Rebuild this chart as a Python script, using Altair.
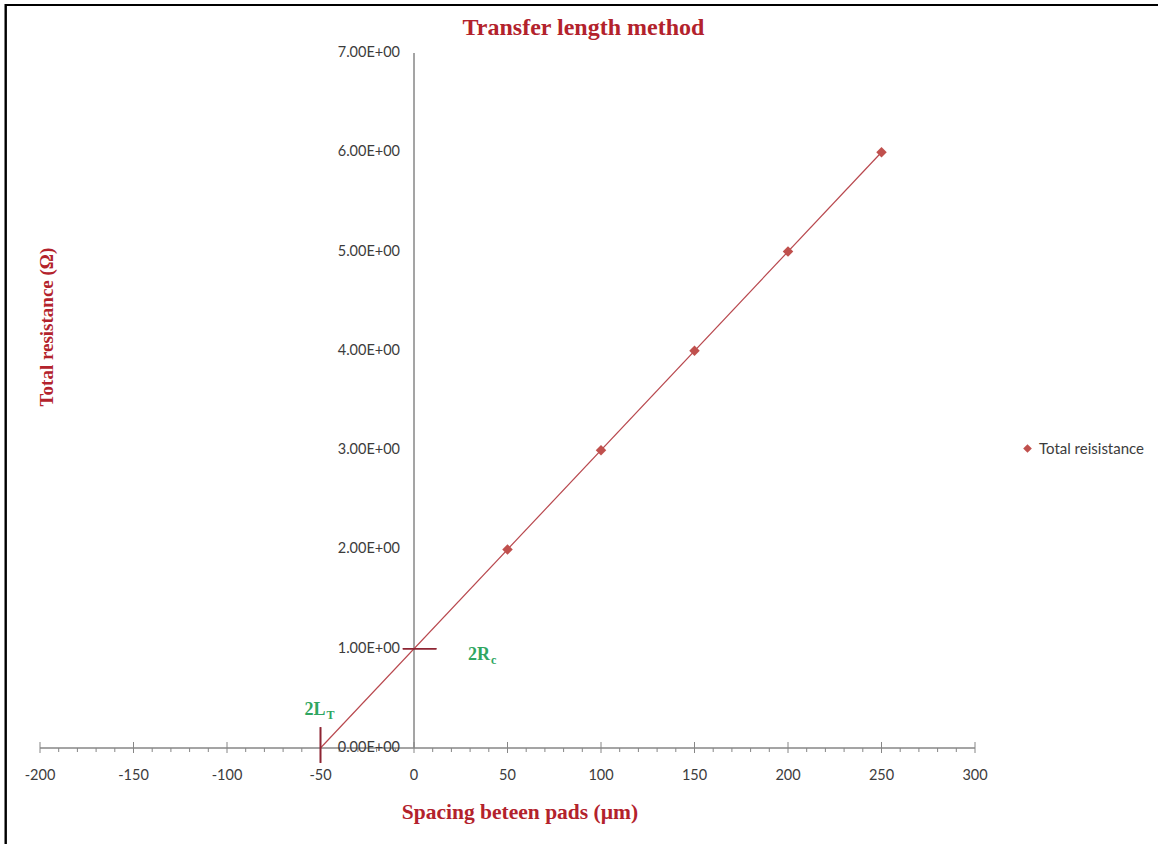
import altair as alt
import pandas as pd

# Measured pads: spacing between pads (µm) and total resistance (Ω)
spacing_um = [50, 100, 150, 200, 250]
total_resistance = [2.0, 3.0, 4.0, 5.0, 6.0]
series_name = "Total reisistance"

# Linear fit through the measurements, extended down to the x-intercept
fit_spacing = [-50, 250]
fit_resistance = [0.0, 6.0]

# Axis ticks and labels (axes cross at the origin)
x_major = [-200, -150, -100, -50, 0, 50, 100, 150, 200, 250, 300]
x_major_labels = ["-200", "-150", "-100", "-50", "0", "50", "100", "150", "200", "250", "300"]
x_minor = [v for v in range(-200, 301, 10) if v % 50 != 0]
y_ticks = [0, 1, 2, 3, 4, 5, 6, 7]
y_tick_labels = ["0.00E+00", "1.00E+00", "2.00E+00", "3.00E+00",
                 "4.00E+00", "5.00E+00", "6.00E+00", "7.00E+00"]

# Intercept markers: 2L_T on the x axis, 2R_c on the y axis
lt_x = -50
lt_span = [-0.15, 0.21]
rc_y = 1.0
rc_span = [-6, 12]

W, H = 935, 695
PAD = {"left": 40, "top": 53, "right": 183, "bottom": 96}

AXIS_GRAY = "#868686"
LABEL_GRAY = "#3c3c3c"
DARK_RED = "#b3222c"
MARK_RED = "#c0504d"
LINE_RED = "#b8484e"
TICK_RED = "#8e2533"
GREEN = "#2fa661"
SANS = "Lato"
SERIF = "Liberation Serif"

xs = alt.Scale(domain=[-200, 300], nice=False, zero=False)
ys = alt.Scale(domain=[0, 7], nice=False, zero=False)


def xd(v):
    return alt.XDatum(v, type="quantitative", scale=xs, axis=None)


def yd(v):
    return alt.YDatum(v, type="quantitative", scale=ys, axis=None)


points_df = pd.DataFrame({"spacing": spacing_um, "resistance": total_resistance,
                          "series": [series_name] * len(spacing_um)})
fit_df = pd.DataFrame({"spacing": fit_spacing, "resistance": fit_resistance})
xmaj_df = pd.DataFrame({"x": x_major, "label": x_major_labels})
xmin_df = pd.DataFrame({"x": x_minor})
ylab_df = pd.DataFrame({"y": y_ticks, "label": y_tick_labels})

# Frame lines along the top and left edge of the figure
border_top = alt.Chart(fit_df).mark_rule(color="black", strokeWidth=2).encode(
    x=alt.value(-35), x2=alt.value(1118), y=alt.value(-48))
border_left = alt.Chart(fit_df).mark_rule(color="black", strokeWidth=2).encode(
    x=alt.value(-34.3), y=alt.value(-49), y2=alt.value(791))

# Horizontal axis through y = 0
x_domain = alt.Chart(fit_df).mark_rule(color=AXIS_GRAY, strokeWidth=1).encode(
    x=xd(-200), x2=alt.X2Datum(300), y=yd(0))
x_major_ticks = alt.Chart(xmaj_df).mark_rule(
    color=AXIS_GRAY, strokeWidth=1, yOffset=-6, y2Offset=5).encode(
    x=alt.X("x:Q", scale=xs, axis=None), y=yd(0), y2=alt.Y2Datum(0))
x_minor_ticks = alt.Chart(xmin_df).mark_rule(
    color=AXIS_GRAY, strokeWidth=1, yOffset=0, y2Offset=4).encode(
    x=alt.X("x:Q", scale=xs, axis=None), y=yd(0), y2=alt.Y2Datum(0))
x_labels = alt.Chart(xmaj_df).mark_text(
    font=SANS, fontSize=14.5, color=LABEL_GRAY, dy=28, baseline="middle", align="center").encode(
    x=alt.X("x:Q", scale=xs, axis=None), y=yd(0), text="label:N")

# Vertical axis through x = 0
y_domain = alt.Chart(fit_df).mark_rule(color=AXIS_GRAY, strokeWidth=1).encode(
    x=xd(0), y=yd(0), y2=alt.Y2Datum(7))
y_labels = alt.Chart(ylab_df).mark_text(
    font=SANS, fontSize=14.5, color=LABEL_GRAY, dx=-14, baseline="middle", align="right").encode(
    x=xd(0), y=alt.Y("y:Q", scale=ys, axis=None), text="label:N")

# Fitted line and measured points
fit_line = alt.Chart(fit_df).mark_line(color=LINE_RED, strokeWidth=1.2).encode(
    x=alt.X("spacing:Q", scale=xs, axis=None),
    y=alt.Y("resistance:Q", scale=ys, axis=None))
points = alt.Chart(points_df).mark_point(
    shape="diamond", filled=True, size=110, opacity=1).encode(
    x=alt.X("spacing:Q", scale=xs, axis=None),
    y=alt.Y("resistance:Q", scale=ys, axis=None),
    color=alt.Color("series:N", scale=alt.Scale(range=[MARK_RED]),
                    legend=alt.Legend(orient="none", legendX=980, legendY=388, title=None,
                                      symbolType="diamond", symbolSize=75,
                                      symbolStrokeWidth=0, labelFont=SANS,
                                      labelFontSize=15, labelColor=LABEL_GRAY,
                                      labelOffset=4, padding=0)))

# Intercept markers
lt_mark = alt.Chart(fit_df).mark_rule(color=TICK_RED, strokeWidth=1.6).encode(
    x=xd(lt_x), y=yd(lt_span[0]), y2=alt.Y2Datum(lt_span[1]))
rc_mark = alt.Chart(fit_df).mark_rule(color=TICK_RED, strokeWidth=1.6).encode(
    x=xd(rc_span[0]), x2=alt.X2Datum(rc_span[1]), y=yd(rc_y))

one_row = pd.DataFrame({"k": [0]})
lt_main = alt.Chart(one_row).mark_text(
    text="2L", font=SERIF, fontWeight="bold", fontSize=18, color=GREEN,
    align="right", baseline="alphabetic", dx=5, dy=-33).encode(x=xd(lt_x), y=yd(0))
lt_sub = alt.Chart(one_row).mark_text(
    text="T", font=SERIF, fontWeight="bold", fontSize=12, color=GREEN,
    align="left", baseline="alphabetic", dx=6, dy=-29).encode(x=xd(lt_x), y=yd(0))
rc_main = alt.Chart(one_row).mark_text(
    text="2R", font=SERIF, fontWeight="bold", fontSize=18, color=GREEN,
    align="right", baseline="alphabetic", dx=76, dy=11).encode(x=xd(0), y=yd(rc_y))
rc_sub = alt.Chart(one_row).mark_text(
    text="c", font=SERIF, fontWeight="bold", fontSize=12, color=GREEN,
    align="left", baseline="alphabetic", dx=77, dy=15).encode(x=xd(0), y=yd(rc_y))

# Chart and axis titles
title = alt.Chart(one_row).mark_text(
    text="Transfer length method", font=SERIF, fontWeight="bold", fontSize=24,
    color=DARK_RED, align="center", baseline="alphabetic").encode(
    x=alt.value(543.5), y=alt.value(-18))
x_title = alt.Chart(one_row).mark_text(
    text="Spacing beteen pads (µm)", font=SERIF, fontWeight="bold", fontSize=21.5,
    color=DARK_RED, align="center", baseline="middle").encode(
    x=alt.value(480), y=alt.value(760))
y_title = alt.Chart(one_row).mark_text(
    text="Total resistance (Ω)", font=SERIF, fontWeight="bold", fontSize=19,
    color=DARK_RED, align="center", baseline="middle", angle=270).encode(
    x=alt.value(7), y=alt.value(274))

chart = alt.layer(
    border_top, border_left,
    x_domain, x_major_ticks, x_minor_ticks, x_labels,
    y_domain, y_labels,
    fit_line, lt_mark, rc_mark, points,
    lt_main, lt_sub, rc_main, rc_sub,
    title, x_title, y_title,
).properties(
    width=W, height=H, padding=PAD, autosize=alt.AutoSizeParams(type="none"),
    background="white",
).configure_view(stroke=None)

chart.save("out.html", embed_options={"renderer": "svg", "actions": False})
